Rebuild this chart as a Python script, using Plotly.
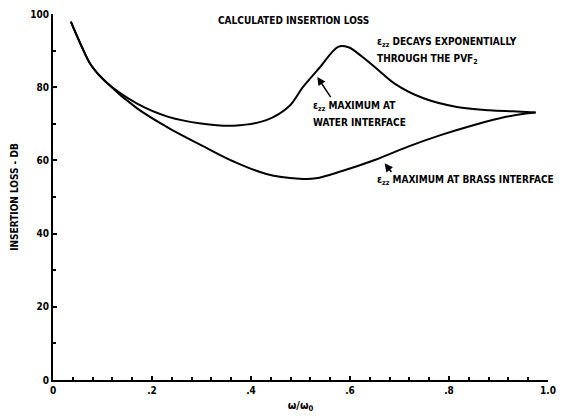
import plotly.graph_objects as go

# Frequency ratio samples and insertion loss (dB) for the two field profiles
x_decay = [0.036, 0.057, 0.077, 0.107, 0.170, 0.233, 0.299, 0.365, 0.431, 0.477,
           0.504, 0.537, 0.577, 0.597, 0.624, 0.657, 0.690, 0.750, 0.816, 0.882, 0.928, 0.975]
loss_decay = [97.9, 91.4, 86.0, 81.4, 75.5, 71.9, 70.1, 69.5, 71.0, 74.8,
              79.9, 85.1, 91.1, 90.9, 88.4, 84.7, 81.0, 76.9, 74.6, 73.7, 73.4, 73.1]

x_brass = [0.036, 0.057, 0.077, 0.107, 0.170, 0.233, 0.299, 0.365, 0.431, 0.498,
           0.531, 0.584, 0.650, 0.716, 0.783, 0.849, 0.915, 0.955, 0.975]
loss_brass = [97.9, 91.4, 86.0, 81.4, 74.2, 68.9, 64.2, 59.7, 56.3, 55.0,
              55.1, 57.1, 60.1, 63.7, 66.9, 69.6, 71.9, 72.8, 73.1]

x_ticks = [0, 0.2, 0.4, 0.6, 0.8, 1.0]
x_tick_text = ["0", ".2", ".4", ".6", ".8", "1.0"]
y_ticks = [0, 20, 40, 60, 80, 100]

FONT = "DejaVu Sans Condensed, Liberation Sans Narrow, DejaVu Sans, sans-serif"
EPS = "\u03b5<sub>zz</sub>"

fig = go.Figure()
for xs, ys in ((x_decay, loss_decay), (x_brass, loss_brass)):
    fig.add_trace(go.Scatter(x=xs, y=ys, mode="lines",
                             line=dict(color="black", width=2, shape="spline", smoothing=1.0),
                             showlegend=False, hoverinfo="skip"))

txt = dict(family=FONT, size=10, color="black", weight="bold")

def label(x, y, text, anchor="left"):
    fig.add_annotation(x=x, y=y, xref="x", yref="y", text=text, showarrow=False,
                       xanchor=anchor, yanchor="middle", font=txt)

label(0.485, 98.1, "CALCULATED INSERTION LOSS", anchor="center")
label(0.65, 92.3, EPS + " DECAYS EXPONENTIALLY")
label(0.65, 87.5, "THROUGH THE PVF<sub>2</sub>")
label(0.521, 74.8, EPS + " MAXIMUM AT")
label(0.521, 70.3, "WATER INTERFACE")
label(0.65, 54.4, EPS + " MAXIMUM AT BRASS INTERFACE")

# Pointer arrows from the labels to their curves
for hx, hy, tx, ty in ((0.534, 82.8, 0.563, 76.9), (0.670, 59.2, 0.686, 56.4)):
    fig.add_annotation(x=hx, y=hy, ax=tx, ay=ty, xref="x", yref="y", axref="x", ayref="y",
                       text="", showarrow=True, arrowhead=2, arrowsize=1.1,
                       arrowwidth=1.5, arrowcolor="black")

axis_common = dict(showgrid=False, zeroline=False, showline=True, linecolor="black",
                   linewidth=2, ticks="inside", ticklen=4, tickwidth=1.5, tickcolor="black",
                   tickfont=dict(family=FONT, size=10, color="black", weight="bold"))

fig.update_xaxes(range=[0, 1.0], tickvals=x_ticks, ticktext=x_tick_text,
                 minor=dict(dtick=0.04, ticks="inside", ticklen=3, tickcolor="black", tickwidth=1.5),
                 title=dict(text="\u03c9/\u03c9<sub>0</sub>", standoff=6,
                            font=dict(family=FONT, size=11, color="black", weight="bold")),
                 **axis_common)
fig.update_yaxes(range=[0, 100], tickvals=y_ticks,
                 minor=dict(dtick=10, ticks="inside", ticklen=3, tickcolor="black", tickwidth=1.5),
                 title=dict(text="INSERTION LOSS - DB", standoff=10,
                            font=dict(family=FONT, size=10, color="black", weight="bold")),
                 **axis_common)

fig.update_layout(width=564, height=418, margin=dict(l=53, r=8, t=14, b=33),
                  paper_bgcolor="white", plot_bgcolor="white")

fig.write_html("out.html")
